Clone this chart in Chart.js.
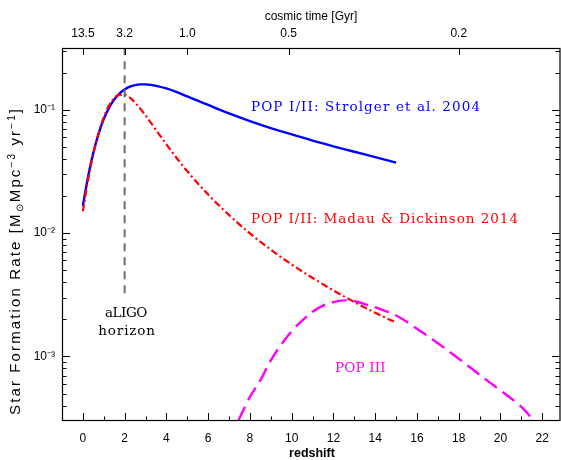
<!DOCTYPE html>
<html>
<head>
<meta charset="utf-8">
<script src="https://cdn.jsdelivr.net/npm/chart.js@4.4.1/dist/chart.umd.min.js"></script>
<style>
html,body{margin:0;padding:0;background:#fff;}
canvas{display:block;}
</style>
</head>
<body>
<canvas id="c" width="561" height="460"></canvas>
<script>
// ---------------- data ----------------
const strolgerZ   = [0, 0.25, 0.5, 0.75, 1.0, 1.25, 1.5, 1.75, 2.0, 2.25, 2.5, 2.75, 3.0, 3.25, 3.5, 4.0, 4.5, 5.0, 5.5, 6.0, 7.0, 8.0, 9.0, 10.0, 11.0, 12.0, 13.0, 14.0, 15.0];
const strolgerSFR = [0.0166, 0.0288, 0.0447, 0.0638, 0.0841, 0.1035, 0.1208, 0.1352, 0.1459, 0.1535, 0.1581, 0.1603, 0.1603, 0.1589, 0.1563, 0.1486, 0.1387, 0.1282, 0.1183, 0.1092, 0.0933, 0.0809, 0.0710, 0.0630, 0.0562, 0.0505, 0.0456, 0.0413, 0.0373];

const madauZ   = [0, 0.25, 0.5, 0.75, 1.0, 1.25, 1.5, 1.75, 2.0, 2.25, 2.5, 3.0, 3.5, 4.0, 4.5, 5.0, 6.0, 7.0, 8.0, 9.0, 10.0, 11.0, 12.0, 13.0, 14.0, 15.0];
const madauSFR = [0.0150, 0.0272, 0.0438, 0.0642, 0.0867, 0.108, 0.124, 0.132, 0.132, 0.125, 0.114, 0.0898, 0.0685, 0.0523, 0.0404, 0.0317, 0.0205, 0.0140, 0.00994, 0.00733, 0.00556, 0.00433, 0.00343, 0.00276, 0.00226, 0.00188];

const pop3Z   = [7.0, 7.5, 8.0, 8.5, 9.0, 9.5, 10.0, 10.5, 11.0, 11.5, 12.0, 12.5, 13.0, 13.5, 14.0, 15.0, 16.0, 17.0, 18.0, 19.0, 20.0, 21.0, 21.5, 22.0];
const pop3SFR = [0.00021, 0.000316, 0.00047, 0.00064, 0.00093, 0.00125, 0.0016, 0.00195, 0.0023, 0.00258, 0.00276, 0.00285, 0.0028, 0.00266, 0.0025, 0.00215, 0.00168, 0.00128, 0.00096, 0.00071, 0.00053, 0.00039, 0.000315, 0.00025];

const horizonZ   = [2, 2];
const horizonSFR = [0.32, 0.0032];

const redshiftTicks    = [0, 2, 4, 6, 8, 10, 12, 14, 16, 18, 20, 22];
const cosmicTimeZ      = [0, 2, 5, 9.85, 18.0];
const cosmicTimeLabels = ['13.5', '3.2', '1.0', '0.5', '0.2'];
const sfrTickValues = [1e-1, 1e-2, 1e-3];
const sfrTickLabels = ['10\u207B\u00B9', '10\u207B\u00B2', '10\u207B\u00B3'];

const zMin = -1, zMax = 22.85;
const sfrMin = 3.1623e-4, sfrMax = 0.31623;

const pts = (xs, ys) => xs.map((x, i) => ({x: x, y: ys[i]}));

// ---------------- helpers ----------------
function drawFit(ctx, text, x, y, w, font, color) {
  ctx.save();
  ctx.font = font; ctx.fillStyle = color;
  ctx.textAlign = 'left'; ctx.textBaseline = 'alphabetic';
  const hasLS = ('letterSpacing' in ctx);
  if (hasLS) ctx.letterSpacing = '0px';
  const w0 = ctx.measureText(text).width;
  const n = [...text].length;
  if (hasLS && n > 1) {
    ctx.letterSpacing = ((w - w0) / (n - 1)) + 'px';
    ctx.fillText(text, x, y);
  } else {
    ctx.translate(x, y); ctx.scale(w / w0, 1); ctx.fillText(text, 0, 0);
  }
  ctx.restore();
}

const FRAME = {
  id: 'frame',
  afterDatasetsDraw(chart) {
    const ctx = chart.ctx, a = chart.chartArea;
    const xs = chart.scales.x, ys = chart.scales.y;
    ctx.save();
    ctx.strokeStyle = '#000';
    ctx.lineWidth = 1.2;
    ctx.strokeRect(a.left + 0.5, a.top + 0.5, a.right - a.left - 0.5, a.bottom - a.top - 1);
    ctx.lineWidth = 1;
    ctx.beginPath();
    for (let z = Math.ceil(zMin); z <= Math.floor(zMax); z++) {
      const px = Math.round(xs.getPixelForValue(z)) + 0.5;
      const len = (z % 2 === 0) ? 8 : 4.5;
      ctx.moveTo(px, a.bottom); ctx.lineTo(px, a.bottom - len);
    }
    cosmicTimeZ.forEach(z => {
      const px = Math.round(xs.getPixelForValue(z)) + 0.5;
      ctx.moveTo(px, a.top); ctx.lineTo(px, a.top + 7);
    });
    for (let d = -4; d <= 0; d++) {
      for (let m = 1; m <= 9; m++) {
        const v = m * Math.pow(10, d);
        if (v < sfrMin * 1.0001 || v > sfrMax * 0.9999) continue;
        const py = Math.round(ys.getPixelForValue(v)) + 0.5;
        const len = (m === 1) ? 8 : 4.5;
        ctx.moveTo(a.left, py); ctx.lineTo(a.left + len, py);
        ctx.moveTo(a.right, py); ctx.lineTo(a.right - len, py);
      }
    }
    ctx.stroke();
    ctx.restore();
  },
  afterDraw(chart) {
    const ctx = chart.ctx, a = chart.chartArea;
    const cx = (a.left + a.right) / 2;
    ctx.save();
    ctx.fillStyle = '#000';
    ctx.textAlign = 'center'; ctx.textBaseline = 'alphabetic';
    ctx.font = '12px "Liberation Sans", Arial, sans-serif';
    ctx.fillText('cosmic time [Gyr]', cx, 19.5);
    ctx.font = 'bold 12.5px "Liberation Sans", Arial, sans-serif';
    ctx.fillText('redshift', cx + 1, 456.5);
    ctx.restore();

    // y-axis title (rotated, rich text)
    const segs = [
      {t: 'Star Formation Rate [M', s: 15, dy: 0},
      {t: '\u2299', s: 10, dy: 3},
      {t: 'Mpc', s: 15, dy: 0},
      {t: '\u22123', s: 10, dy: -5.5},
      {t: ' yr', s: 15, dy: 0},
      {t: '\u22121', s: 10, dy: -5.5},
      {t: ']', s: 15, dy: 0}
    ];
    ctx.save();
    ctx.translate(20, 415);
    ctx.rotate(-Math.PI / 2);
    ctx.fillStyle = '#000';
    ctx.textAlign = 'left'; ctx.textBaseline = 'alphabetic';
    const hasLS = ('letterSpacing' in ctx);
    if (hasLS) ctx.letterSpacing = '0px';
    let total = 0, nChars = 0;
    segs.forEach(g => {
      ctx.font = g.s + 'px "Liberation Sans", Arial, sans-serif';
      g.w = ctx.measureText(g.t).width; total += g.w; nChars += [...g.t].length;
    });
    const extra = Math.max(0, (306 - total) / (nChars - 1));
    let xx = 0;
    segs.forEach(g => {
      ctx.font = g.s + 'px "Liberation Sans", Arial, sans-serif';
      if (hasLS) ctx.letterSpacing = extra + 'px';
      ctx.fillText(g.t, xx, g.dy);
      xx += g.w + extra * [...g.t].length;
    });
    ctx.restore();

    const serif = '13.5px "DejaVu Serif", "Liberation Serif", serif';
    drawFit(ctx, 'POP I/II: Strolger et al. 2004', 251, 110.7, 229, serif, '#0000ff');
    drawFit(ctx, 'POP I/II: Madau & Dickinson 2014', 251, 222.7, 267, serif, '#ff0000');
    drawFit(ctx, 'POP III', 335, 372.3, 50.7, serif, '#ff00ff');
    drawFit(ctx, 'aLIGO', 105, 317, 42.3, serif, '#000000');
    drawFit(ctx, 'horizon', 98.3, 335, 56.7, serif, '#000000');
  }
};

const tickFont = {family: '"Liberation Sans", Arial, sans-serif', size: 12};

new Chart(document.getElementById('c'), {
  type: 'line',
  data: {
    datasets: [
      {label: 'horizon', data: pts(horizonZ, horizonSFR), borderColor: '#6e6e6e', borderWidth: 2,
       borderDash: [8, 6], pointRadius: 0, tension: 0},
      {label: 'POP III', data: pts(pop3Z, pop3SFR), borderColor: '#ff00ff', borderWidth: 2.4,
       borderDash: [15, 7], pointRadius: 0, cubicInterpolationMode: 'monotone'},
      {label: 'Madau & Dickinson 2014', data: pts(madauZ, madauSFR), borderColor: '#ff0000', borderWidth: 2.2,
       borderDash: [7, 3, 2, 3], pointRadius: 0, cubicInterpolationMode: 'monotone'},
      {label: 'Strolger et al. 2004', data: pts(strolgerZ, strolgerSFR), borderColor: '#0000ff', borderWidth: 2.4,
       pointRadius: 0, tension: 0.4}
    ]
  },
  options: {
    responsive: false,
    animation: false,
    devicePixelRatio: 1,
    layout: {padding: {left: 0, right: 1, top: 0, bottom: 0}},
    plugins: {legend: {display: false}, tooltip: {enabled: false}},
    scales: {
      x: {
        type: 'linear', position: 'bottom', min: zMin, max: zMax,
        afterBuildTicks: s => { s.ticks = redshiftTicks.map(v => ({value: v})); },
        afterFit: s => { s.height = 39; },
        grid: {display: true, drawOnChartArea: false, drawTicks: false},
        border: {display: false},
        ticks: {autoSkip: false, maxRotation: 0, padding: 10, color: '#000', font: tickFont,
                callback: v => String(v)}
      },
      x2: {
        type: 'linear', position: 'top', min: zMin, max: zMax,
        afterBuildTicks: s => { s.ticks = cosmicTimeZ.map(v => ({value: v})); },
        afterFit: s => { s.height = 48; },
        grid: {display: true, drawOnChartArea: false, drawTicks: false},
        border: {display: false},
        ticks: {autoSkip: false, maxRotation: 0, padding: 7, color: '#000', font: tickFont,
                callback: (v, i) => cosmicTimeLabels[i]}
      },
      y: {
        type: 'logarithmic', position: 'left', min: sfrMin, max: sfrMax,
        afterBuildTicks: s => { s.ticks = sfrTickValues.map(v => ({value: v})); },
        afterFit: s => { s.width = 62; },
        grid: {display: true, drawOnChartArea: false, drawTicks: false},
        border: {display: false},
        ticks: {autoSkip: false, padding: 7, color: '#000', font: tickFont,
                callback: (v, i) => sfrTickLabels[i]}
      }
    }
  },
  plugins: [FRAME]
});
</script>
</body>
</html>
